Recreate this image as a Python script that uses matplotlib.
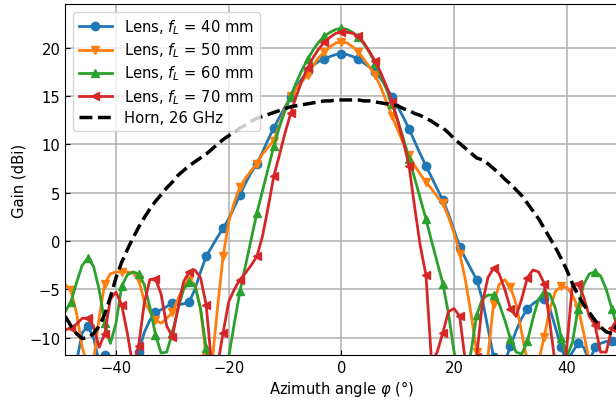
import numpy as np
import matplotlib
matplotlib.use('Agg')
from matplotlib import pyplot as plt

plt.rcParams['font.size'] = 10.6

# azimuth angle, 1 degree steps
angle = np.arange(-49, 50)

gain_40 = [-14, -15, -12.5, -9.5, -8.8, -10, -12.5, -11.8, -13, -15,
           -16, -15, -13, -11.5, -9.5, -8.2, -7.4, -7.1, -6.8, -6.4,
           -6.6, -6.5, -6.3, -5.0, -3.2, -1.6, -0.6, 0.4, 1.3, 2.3,
           3.5, 4.8, 6.0, 7.1, 8.0, 9.2, 10.5, 11.7, 12.8, 13.9,
           14.9, 15.9, 16.8, 17.6, 18.2, 18.6, 18.8, 19.1, 19.3, 19.4,
           19.3, 19.1, 18.8, 18.4, 18.0, 17.5, 16.8, 15.9, 14.9, 13.9,
           12.8, 11.6, 10.3, 9.0, 7.8, 6.6, 5.4, 4.2, 2.8, 1.1,
           -0.6, -1.8, -2.9, -4.0, -6.0, -9.0, -12.0, -13.5, -12.5, -10.9,
           -9.3, -8.0, -7.0, -6.5, -6.1, -6.0, -7.0, -9.0, -11.0, -12.5,
           -11.5, -10.6, -11.0, -12.5, -11.0, -10.6, -10.4, -10.4, -10.8]

gain_50 = [-4.5, -5.1, -7.5, -11, -13, -12.5, -8.0, -4.4, -3.4, -3.2,
           -3.2, -3.2, -3.3, -4.0, -6.2, -7.3, -8.2, -8.5, -8.0, -7.4,
           -6.0, -4.6, -4.0, -4.5, -7.0, -12.0, -13.0, -7.0, -1.6, 2.0,
           4.0, 5.6, 6.5, 7.3, 8.0, 9.0, 9.7, 10.4, 12.0, 13.7,
           15.0, 15.8, 16.5, 17.2, 18.2, 19.0, 19.6, 20.1, 20.5, 20.6,
           20.5, 20.1, 19.6, 18.8, 18.0, 17.2, 15.9, 14.4, 12.9, 11.5,
           10.1, 8.9, 7.8, 6.9, 6.1, 5.4, 4.6, 3.9, 2.5, 0.8,
           -1.3, -4.0, -7.5, -11.5, -14, -12, -6.5, -4.5, -4.0, -4.8,
           -6.5, -9.5, -12.5, -14, -12.5, -9.9, -7.0, -5.2, -4.7, -4.8,
           -5.6, -6.9, -9.5, -12.5, -14, -14, -13, -13, -13]

gain_60 = [-7.3, -6.3, -4.3, -2.5, -1.8, -2.6, -5.0, -8.5, -10.6, -8.5,
           -4.7, -3.5, -3.2, -3.4, -4.5, -6.8, -9.7, -11.6, -11.5, -9.5,
           -7.0, -5.0, -4.2, -4.6, -7.0, -11.1, -14, -16, -15, -12,
           -8.5, -5.2, -2.5, 0.2, 2.9, 5.2, 7.5, 9.8, 11.8, 13.5,
           15.0, 16.4, 17.7, 18.8, 19.8, 20.6, 21.2, 21.6, 21.9, 22.0,
           21.9, 21.6, 21.1, 20.4, 19.5, 18.4, 17.1, 15.7, 14.2, 12.5,
           10.6, 8.5, 6.5, 4.4, 2.3, 0.0, -2.2, -4.4, -7.5, -11.5,
           -14, -14, -11.5, -7.7, -6.0, -5.6, -5.6, -6.5, -8.2, -10.1,
           -11.5, -11.7, -10.4, -8.0, -6.0, -5.3, -5.5, -7.0, -10.0, -12.0,
           -10.5, -7.0, -4.5, -3.4, -3.2, -3.6, -5.0, -7.0, -9.0]

gain_70 = [-9.2, -9.0, -8.6, -8.0, -8.0, -8.8, -11, -9.6, -6.0, -5.3,
           -6.6, -9.5, -13, -10.9, -6.5, -4.0, -3.9, -5.5, -8.8, -9.9,
           -7.0, -4.2, -3.2, -3.0, -3.8, -6.6, -13, -13, -9.5, -6.3,
           -5.0, -4.0, -3.3, -2.5, -1.6, 0.5, 3.5, 6.7, 8.9, 11.2,
           13.2, 15.0, 16.6, 17.9, 19.0, 19.9, 20.6, 21.1, 21.5, 21.6,
           21.6, 21.5, 21.2, 20.5, 19.6, 18.6, 17.4, 16.0, 14.4, 12.4,
           10.3, 7.8, 3.5, -0.5, -3.5, -12.5, -11.5, -9.5, -7.3, -7.0,
           -7.8, -12.5, -14, -12, -6.5, -3.8, -2.8, -3.4, -5.0, -7.0,
           -7.8, -6.0, -3.8, -3.0, -3.2, -4.4, -8.5, -13, -15, -11,
           -4.5, -4.4, -5.8, -7.8, -8.7, -11.5, -11.5, -9.0, -8.0]

gain_horn = [-7.8, -8.8, -9.6, -10.1, -10.0, -9.6, -8.8, -7.6, -5.8, -3.8,
             -2.2, -0.9, 0.3, 1.4, 2.4, 3.3, 4.1, 4.8, 5.5, 6.1,
             6.8, 7.3, 7.8, 8.2, 8.6, 9.0, 9.5, 10.0, 10.5, 10.9,
             11.3, 11.7, 12.0, 12.4, 12.7, 12.9, 13.1, 13.3, 13.5, 13.7,
             13.9, 14.0, 14.1, 14.2, 14.3, 14.4, 14.5, 14.5, 14.6, 14.6,
             14.6, 14.6, 14.6, 14.5, 14.5, 14.4, 14.3, 14.2, 14.1, 14.0,
             13.7, 13.5, 13.2, 13.0, 12.7, 12.4, 12.0, 11.7, 11.2, 10.6,
             10.1, 9.6, 9.1, 8.6, 8.4, 8.0, 7.5, 7.0, 6.4, 5.9,
             5.3, 4.7, 3.9, 3.1, 2.3, 1.3, 0.3, -0.7, -1.8, -3.0,
             -4.4, -5.6, -6.6, -7.4, -8.2, -8.9, -9.4, -9.6, -8.6]

focal = [40, 50, 60, 70]
markers = ['o', 'v', '^', '<']

fig = plt.figure(figsize=(6.16, 4.02), dpi=100)
ax = fig.add_axes([65.3 / 616, 1 - 356 / 402, (617.5 - 65.3) / 616, (356 - 5.3) / 402])

for g, f, m in zip([gain_40, gain_50, gain_60, gain_70], focal, markers):
    ax.plot(angle, g, marker=m, markevery=(1, 3), lw=2, ms=6,
            label='Lens, $f_L$ = %d mm' % f)
ax.plot(angle, gain_horn, 'k--', lw=2.5, label='Horn, 26 GHz')

ax.set_xlim(-49, 49)
ax.set_ylim(-11.8, 24.5)
ax.set_xticks([-40, -20, 0, 20, 40])
ax.set_yticks([-10, -5, 0, 5, 10, 15, 20])
ax.grid(True, color='#b0b0b0', lw=1.1)
ax.set_axisbelow(True)
ax.tick_params(direction='in')
ax.set_xlabel('Azimuth angle $\\varphi$ (°)', labelpad=2)
ax.set_ylabel('Gain (dBi)', labelpad=2)
ax.legend(loc='upper left', handlelength=2.3, labelspacing=0.3)

fig.savefig('out.png', dpi=100)
